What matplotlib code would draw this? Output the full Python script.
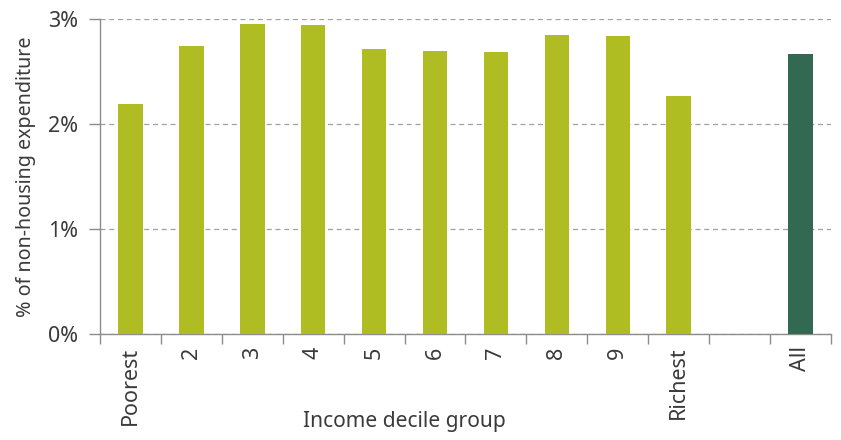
import numpy as np
import matplotlib
matplotlib.use("Agg")
import matplotlib.pyplot as plt
from matplotlib.ticker import FuncFormatter

plt.rcParams['font.family'] = ['Noto Sans', 'DejaVu Sans']

categories = ["Poorest", "2", "3", "4", "5", "6", "7", "8", "9", "Richest", "", "All"]
values = [2.19, 2.745, 2.955, 2.945, 2.717, 2.698, 2.688, 2.85, 2.84, 2.27, np.nan, 2.67]
colors = ["#afbc22"] * 11 + ["#336852"]

fig = plt.figure(figsize=(8.41, 4.40), dpi=100)
ax = fig.add_axes([0.119, 0.241, 0.869, 0.715])

x = np.arange(len(categories))
ax.bar(x, values, width=0.4, color=colors, zorder=3)

ax.set_xlim(-0.5, len(categories) - 0.5)
ax.set_ylim(0, 3)
ax.set_yticks([0, 1, 2, 3])
ax.yaxis.set_major_formatter(FuncFormatter(lambda v, p: f"{v:.0f}%"))
ax.yaxis.grid(True, linestyle=(0, (4, 3)), color="#a0a0a0", linewidth=0.9, zorder=0)

ax.set_xticks(x)
ax.set_xticklabels(categories, rotation=90)
ax.set_xticks(np.arange(-0.5, len(categories)), minor=True)
ax.tick_params(axis="x", which="major", length=0, pad=9)
ax.tick_params(axis="x", which="minor", length=7, color="#8c8c8c", width=1)
ax.tick_params(axis="y", length=8, color="#8c8c8c", width=1, pad=8)
ax.tick_params(labelsize=15.5, labelcolor="#3a3a3a")

for s in ["top", "right"]:
    ax.spines[s].set_visible(False)
for s in ["left", "bottom"]:
    ax.spines[s].set_color("#8c8c8c")
    ax.spines[s].set_linewidth(1)

# x label sits under the ten decile groups, not the whole axis
ax.set_xlabel("Income decile group", fontsize=15.1, color="#3a3a3a")
ax.xaxis.set_label_coords(5 / 12, -0.245)
ax.set_ylabel("% of non-housing expenditure", fontsize=14.2, color="#3a3a3a")
ax.yaxis.set_label_coords(-0.088, 0.5)

fig.savefig("out.png", dpi=100)
